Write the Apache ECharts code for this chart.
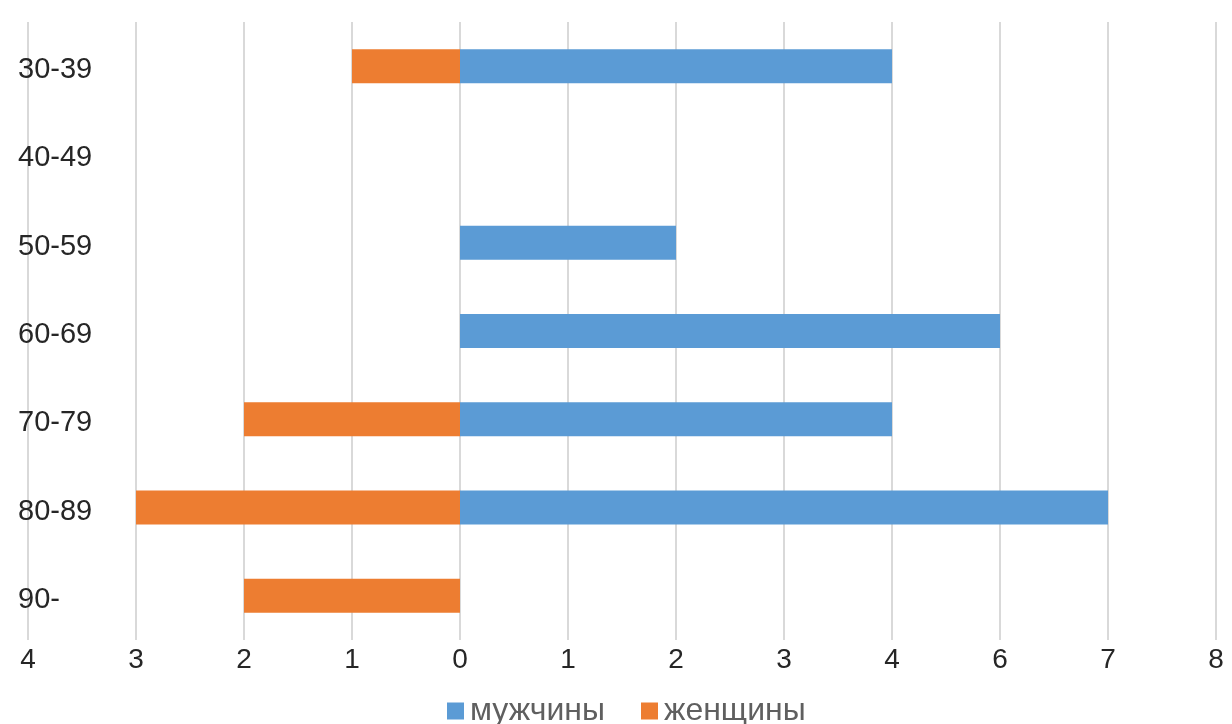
<!DOCTYPE html>
<html>
<head>
<meta charset="utf-8">
<script src="https://cdn.jsdelivr.net/npm/echarts@6/dist/echarts.min.js"></script>
<style>
  html, body { margin: 0; padding: 0; background: #fff; }
  #chart { width: 1232px; height: 724px; }
</style>
</head>
<body>
<div id="chart"></div>
<script>
// Age groups, top to bottom
const ageGroups = ['30-39', '40-49', '50-59', '60-69', '70-79', '80-89', '90-'];

// Counts per age group
const men   = [4, 0, 2, 6, 4, 7, 0];
const women = [1, 0, 0, 0, 2, 3, 2];

// Tick labels along the horizontal axis: left half (women), right half (men)
const leftTicks  = ['4', '3', '2', '1'];
const rightTicks = ['0', '1', '2', '3', '4', '6', '7', '8'];
const tickLabels = leftTicks.concat(rightTicks);

// Axis slot of a value, found through the tick labels of its side
function toAxis(v, side) {
  const idx = rightTicks.indexOf(String(v));
  return side === 'left' ? -idx : idx;
}

const axisMin = -leftTicks.length;
const axisMax = rightTicks.length - 1;

const chart = echarts.init(document.getElementById('chart'));
const font = '"Liberation Sans", Arial, sans-serif';

chart.setOption({
  animation: false,
  textStyle: { fontFamily: font },
  grid: { left: 28, right: 16, top: 22, bottom: 84, containLabel: false },
  legend: {
    top: 690,
    left: 442,
    itemWidth: 17,
    itemHeight: 17,
    itemGap: 36,
    icon: 'rect',
    textStyle: { fontSize: 32, color: '#5f5f5f', fontFamily: font, padding: [0, 0, 0, 1] },
    data: ['мужчины', 'женщины']
  },
  xAxis: {
    type: 'value',
    min: axisMin,
    max: axisMax,
    interval: 1,
    axisLine: { show: false },
    axisTick: { show: false },
    splitLine: { show: true, lineStyle: { color: '#d9d9d9', width: 2 } },
    axisLabel: {
      fontSize: 28,
      color: '#262626',
      margin: 6,
      formatter: function (v) { return tickLabels[Math.round(v - axisMin)]; }
    }
  },
  yAxis: {
    type: 'category',
    inverse: true,
    data: ageGroups,
    axisLine: { show: false },
    axisTick: { show: false },
    splitLine: { show: false },
    axisLabel: {
      align: 'left',
      margin: 10,
      formatter: function (v) { return '{g|' + v + '}'; },
      rich: {
        g: { fontSize: 29, color: '#262626', fontFamily: font, padding: [8, 0, 0, 0] }
      }
    }
  },
  series: [
    {
      name: 'мужчины',
      type: 'bar',
      stack: 'pyramid',
      barWidth: 34,
      itemStyle: { color: '#5b9bd5' },
      data: men.map(v => toAxis(v, 'right'))
    },
    {
      name: 'женщины',
      type: 'bar',
      stack: 'pyramid',
      barWidth: 34,
      itemStyle: { color: '#ed7d31' },
      data: women.map(v => toAxis(v, 'left'))
    }
  ]
});
</script>
</body>
</html>
